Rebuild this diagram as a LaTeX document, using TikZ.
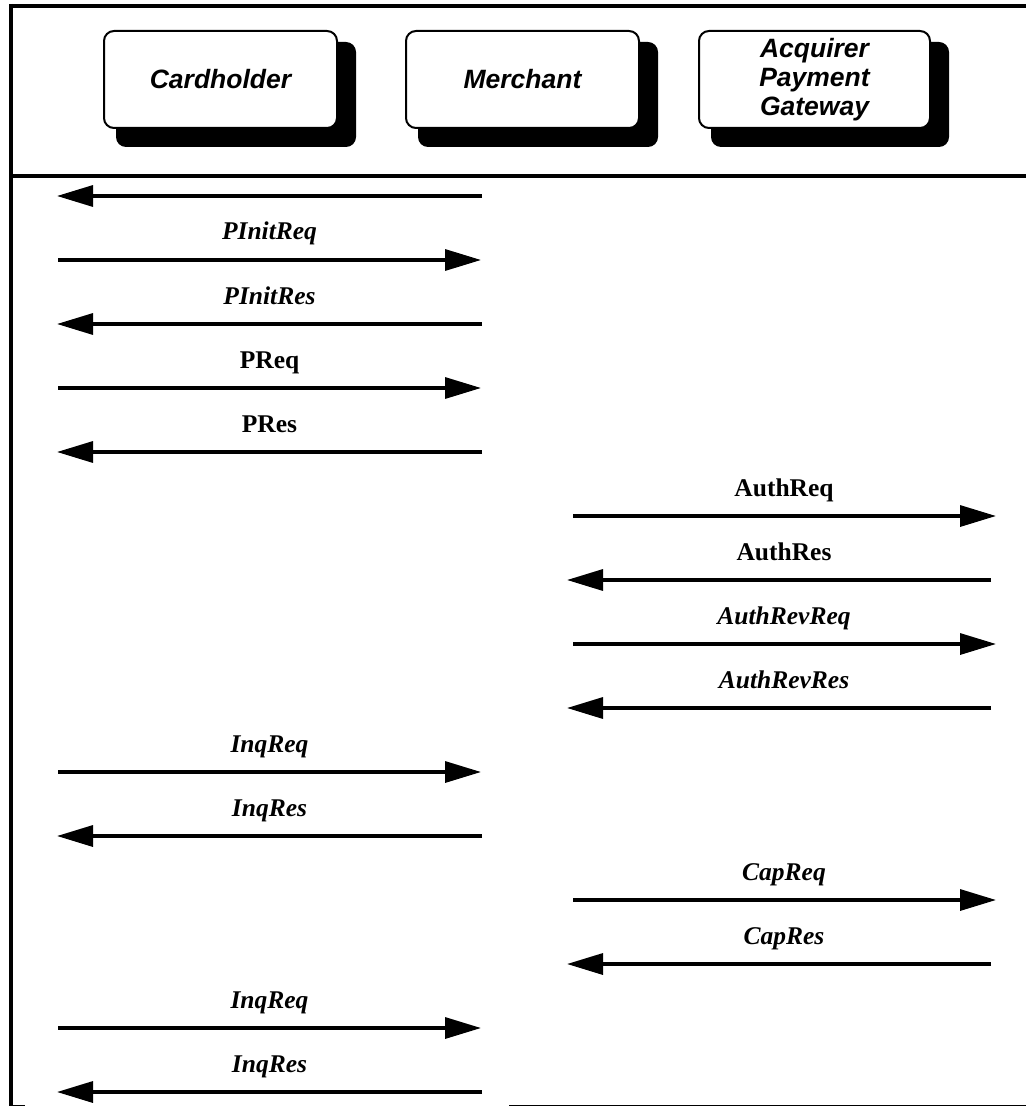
\documentclass[tikz,border=0pt]{standalone}
\usepackage{fontspec}
\setmainfont{Liberation Serif}
\newfontfamily\hdrfont{Liberation Sans}
\usetikzlibrary{arrows.meta,backgrounds}
\begin{document}
\begin{tikzpicture}[x=1pt,y=-1pt,
  hbox/.style={draw, line width=2pt, fill=white, rounded corners=10pt,
    minimum width=233pt, minimum height=97pt, align=center, inner sep=0pt,
    font=\hdrfont\bfseries\itshape\fontsize{26.5}{29}\selectfont},
  boxshadow/.style={fill=black, rounded corners=10pt},
  msg/.style={line width=3.3pt, -{Triangle[length=36pt,width=21pt]}},
  lbl/.style={anchor=base, inner sep=0pt, font=\bfseries\fontsize{25.5}{29}\selectfont},
  framebar/.style={line width=4pt},
  thinbar/.style={line width=1.3pt}]
\useasboundingbox (0,0) rectangle (1026,1107);
% frame
\draw[framebar] (9,6) -- (1026,6);
\draw[framebar] (11,4) -- (11,1106);
\draw[framebar] (11,176) -- (1026,176);
\draw[thinbar] (11,1105.3) -- (25,1105.3);
\draw[thinbar] (509,1105.8) -- (1026,1105.8);
% header boxes
\node[hbox] (ch) at (220.5,79.5) {Cardholder};
\node[hbox] (me) at (522.5,79.5) {Merchant};
\node[hbox, minimum width=231pt] (ac) at (814.5,79.5) {Acquirer\\Payment\\Gateway};
\begin{scope}[on background layer]
  \foreach \n in {ch,me,ac}{
    \fill[boxshadow] ([xshift=13pt,yshift=-12pt]\n.north west) rectangle ([xshift=18pt,yshift=-18pt]\n.south east);
  }
\end{scope}
% messages
\foreach \i/\y/\a/\b/\c/\t in {
  2/260/58/481/269.5/\textit{PInitReq},
  3/324/482/57/269.5/\textit{PInitRes},
  4/388/58/481/269.5/PReq,
  5/452/482/57/269.5/PRes,
  6/516/573/996/784/AuthReq,
  7/580/991/567/784/AuthRes,
  8/644/573/996/784/\textit{AuthRevReq},
  9/708/991/567/784/\textit{AuthRevRes},
  10/772/58/481/269.5/\textit{InqReq},
  11/836/482/57/269.5/\textit{InqRes},
  12/900/573/996/784/\textit{CapReq},
  13/964/991/567/784/\textit{CapRes},
  14/1028/58/481/269.5/\textit{InqReq},
  15/1092/482/57/269.5/\textit{InqRes}}{
  \coordinate (s\i) at (\a,\y);
  \coordinate (e\i) at (\b,\y);
  \draw[msg] (s\i) -- (e\i);
  \node[lbl] (m\i) at (\c,\y-20) {\t};
}
\coordinate (s1) at (482,196);
\coordinate (e1) at (57,196);
\draw[msg] (s1) -- (e1);
\end{tikzpicture}
\end{document}
